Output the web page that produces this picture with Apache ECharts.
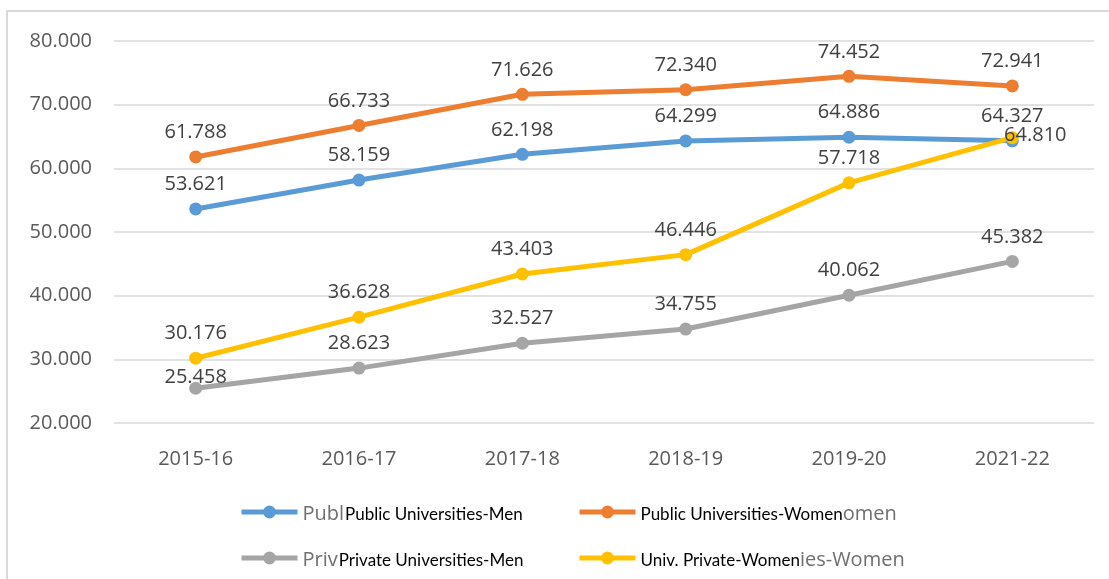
<!DOCTYPE html>
<html>
<head>
<meta charset="utf-8">
<script src="https://cdn.jsdelivr.net/npm/echarts@6/dist/echarts.min.js"></script>
<style>
  html, body { margin: 0; padding: 0; background: #fff; }
  #root { width: 1109px; height: 579px; }
</style>
</head>
<body>
<div id="root"></div>
<script>
var years = ['2015-16', '2016-17', '2017-18', '2018-19', '2019-20', '2021-22'];
var publicMen = [53.621, 58.159, 62.198, 64.299, 64.886, 64.327];
var publicWomen = [61.788, 66.733, 71.626, 72.340, 74.452, 72.941];
var privateMen = [25.458, 28.623, 32.527, 34.755, 40.062, 45.382];
var privateWomen = [30.176, 36.628, 43.403, 46.446, 57.718, 64.810];
var yTicks = [20, 30, 40, 50, 60, 70, 80];
// leftovers of the old legend text that still show around the new names
var legendGhosts = {
    'Public Universities-Men': ['Publ', ''],
    'Public Universities-Women': ['', 'omen'],
    'Private Universities-Men': ['Priv', ''],
    'Univ. Private-Women': ['', 'ies-Women']
};

var font = '"Open Sans", sans-serif';

// a few labels sit off their usual place in the original
var labelMoves = {
    'Private Universities-Men': { 0: { position: 'inside', offset: [0, -11] } },
    'Univ. Private-Women': { 5: { position: 'inside', offset: [23, -2] } }
};

var makeSeries = function (name, values, color) {
    var moves = labelMoves[name] || {};
    return {
        name: name,
        type: 'line',
        symbol: 'circle',
        symbolSize: 13,
        color: color,
        lineStyle: { width: 5, color: color },
        itemStyle: { color: color },
        label: {
            show: true,
            position: 'top',
            distance: 8,
            fontFamily: font,
            fontSize: 20,
            color: '#404040',
            formatter: function (p) { return p.value.toFixed(3); }
        },
        data: values.map(function (v, i) {
            if (moves[i]) {
                return { value: v, label: moves[i] };
            }
            return v;
        })
    };
};

var legendAt = function (name, left, top) {
    return {
        data: [name],
        left: left,
        top: top,
        itemWidth: 56,
        itemHeight: 16,
        itemGap: 5,
        lineStyle: { width: 5 },
        formatter: function (n) {
            var g = legendGhosts[n];
            var s = '';
            if (g[0]) s += '{g|' + g[0] + '}';
            s += '{b|' + n + '}';
            if (g[1]) s += '{g|' + g[1] + '}';
            return s;
        },
        textStyle: {
            rich: {
                b: { fontFamily: 'Lato, sans-serif', fontSize: 17, color: '#000', padding: [6, 0, 0, 0] },
                g: { fontFamily: font, fontSize: 20, color: '#6f6f6f', padding: [4, 1, 0, 0] }
            }
        }
    };
};

var chart = echarts.init(document.getElementById('root'));
chart.setOption({
    animation: false,
    grid: { left: 114, right: 15, top: 41, bottom: 156, containLabel: false },
    graphic: [{
        type: 'rect',
        shape: { x: 7, y: 11, width: 1120, height: 600 },
        style: { fill: 'none', stroke: '#d9d9d9', lineWidth: 2 },
        silent: true,
        z: -10
    }],
    legend: [
        legendAt('Public Universities-Men', 234, 499),
        legendAt('Public Universities-Women', 572, 499),
        legendAt('Private Universities-Men', 234, 545),
        legendAt('Univ. Private-Women', 572, 545)
    ],
    xAxis: {
        type: 'category',
        data: years,
        boundaryGap: true,
        axisLine: { show: false },
        axisTick: { show: false },
        axisLabel: { fontFamily: font, fontSize: 20, color: '#595959', margin: 26 }
    },
    yAxis: {
        type: 'value',
        min: yTicks[0],
        max: yTicks[yTicks.length - 1],
        interval: 10,
        axisLine: { show: false },
        axisTick: { show: false },
        splitLine: { lineStyle: { color: '#d9d9d9', width: 1.5 } },
        axisLabel: {
            fontFamily: font, fontSize: 20, color: '#595959', margin: 22,
            formatter: function (v) { return v.toFixed(3); }
        }
    },
    series: [
        makeSeries('Public Universities-Men', publicMen, '#5B9BD5'),
        makeSeries('Public Universities-Women', publicWomen, '#ED7D31'),
        makeSeries('Private Universities-Men', privateMen, '#A5A5A5'),
        makeSeries('Univ. Private-Women', privateWomen, '#FFC000')
    ]
});
</script>
</body>
</html>
